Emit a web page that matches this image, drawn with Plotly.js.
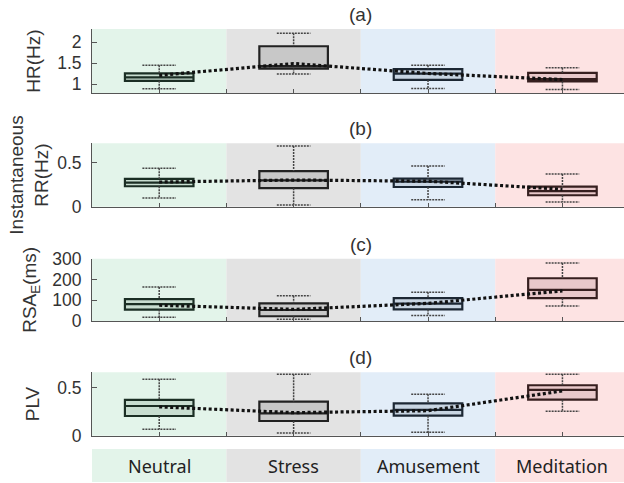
<!DOCTYPE html>
<html>
<head>
<meta charset="utf-8">
<script src="https://cdn.plot.ly/plotly-3.0.1.min.js"></script>
<style>html,body{margin:0;padding:0;background:#fff;}#chart{width:624px;height:483px;}</style>
</head>
<body>
<div id="chart"></div>
<script>
// ---- data ----
const categories = ['Neutral', 'Stress', 'Amusement', 'Meditation'];
const panelTitles = ['(a)', '(b)', '(c)', '(d)'];

const hrLower = [0.89, 1.24, 0.90, 0.875];
const hrQ1    = [1.08, 1.37, 1.10, 1.065];
const hrMed   = [1.16, 1.43, 1.25, 1.12];
const hrQ3    = [1.255, 1.90, 1.355, 1.27];
const hrUpper = [1.45, 2.21, 1.45, 1.39];
const hrMean  = [1.21, 1.49, 1.255, 1.11];

const rrLower = [0.10, 0.02, 0.08, 0.053];
const rrQ1    = [0.232, 0.21, 0.224, 0.13];
const rrMed   = [0.273, 0.30, 0.284, 0.178];
const rrQ3    = [0.315, 0.405, 0.318, 0.227];
const rrUpper = [0.436, 0.69, 0.462, 0.372];
const rrMean  = [0.28, 0.303, 0.29, 0.198];

const rsaLower = [18, 8, 27, 72];
const rsaQ1    = [55, 23, 56, 110];
const rsaMed   = [81, 53, 84, 150];
const rsaQ3    = [105, 85, 110, 206];
const rsaUpper = [164, 122, 139, 279];
const rsaMean  = [76, 56, 85, 145];

const plvLower = [0.067, 0.028, 0.035, 0.254];
const plvQ1    = [0.205, 0.153, 0.208, 0.375];
const plvMed   = [0.309, 0.233, 0.268, 0.476];
const plvQ3    = [0.372, 0.354, 0.337, 0.525];
const plvUpper = [0.587, 0.64, 0.431, 0.64];
const plvMean  = [0.30, 0.24, 0.26, 0.466];

const yTitles = ['HR(Hz)', 'Instantaneous<br>RR(Hz)', 'RSA<sub>E</sub>(ms)', 'PLV'];
const yRanges = [[0.79, 2.31], [0, 0.72], [0, 300], [0, 0.66]];
const yTicks  = [[1, 1.5, 2], [0, 0.5], [0, 100, 200, 300], [0, 0.5]];
const yTickText = [['1', '1.5', '2'], ['0', '0.5'], ['0', '100', '200', '300'], ['0', '0.5']];

// ---- styles ----
const bgColors   = ['#e3f4ea', '#e3e3e3', '#e2edf8', '#fde3e3'];
const boxFill    = ['#c8ddd0', '#c8c8c8', '#c8d5e2', '#e8c8ca'];
const boxEdge    = ['#1b2e24', '#222222', '#1c2733', '#361f1f'];
const domains = [[0.8587, 1.0], [0.6077, 0.7477], [0.3554, 0.4929], [0.1022, 0.2422]];
const stripDomain = [0, 0.0728];
const standoffs = [11, 3, 10, 12];
const xRange = [0.5, 4.458];

const panels = [
  {lo: hrLower, q1: hrQ1, med: hrMed, q3: hrQ3, hi: hrUpper, mean: hrMean},
  {lo: rrLower, q1: rrQ1, med: rrMed, q3: rrQ3, hi: rrUpper, mean: rrMean},
  {lo: rsaLower, q1: rsaQ1, med: rsaMed, q3: rsaQ3, hi: rsaUpper, mean: rsaMean},
  {lo: plvLower, q1: plvQ1, med: plvMed, q3: plvQ3, hi: plvUpper, mean: plvMean}
];

const pos = categories.map((c, i) => i + 1);
const capHalf = 0.125;
const traces = [];
const shapes = [];
const annotations = [];
const layout = {
  width: 624, height: 483,
  margin: {l: 92, r: 0, t: 29, b: 1},
  paper_bgcolor: '#ffffff', plot_bgcolor: 'rgba(0,0,0,0)',
  showlegend: false,
  font: {family: 'Liberation Sans, Arial, sans-serif', size: 17, color: '#333'}
};

panels.forEach((p, k) => {
  const sfx = k === 0 ? '' : String(k + 1);
  const xa = 'x' + sfx, ya = 'y' + sfx;
  // boxes
  categories.forEach((c, i) => {
    traces.push({
      type: 'box', x: [pos[i]], q1: [p.q1[i]], median: [p.med[i]], q3: [p.q3[i]],
      lowerfence: [p.q1[i]], upperfence: [p.q3[i]],
      width: 0.51, whiskerwidth: 0, boxpoints: false,
      fillcolor: boxFill[i], line: {color: boxEdge[i], width: 2.2},
      xaxis: xa, yaxis: ya, hoverinfo: 'skip'
    });
  });
  // whiskers (dotted)
  const wx = [], wy = [];
  categories.forEach((c, i) => {
    wx.push(pos[i], pos[i], null, pos[i], pos[i], null);
    wy.push(p.hi[i], p.q3[i], null, p.q1[i], p.lo[i], null);
    wx.push(pos[i] - capHalf, pos[i] + capHalf, null, pos[i] - capHalf, pos[i] + capHalf, null);
    wy.push(p.hi[i], p.hi[i], null, p.lo[i], p.lo[i], null);
  });
  traces.push({
    type: 'scatter', mode: 'lines', x: wx, y: wy, connectgaps: false,
    line: {color: '#444', width: 1.5, dash: '2px,1px'},
    xaxis: xa, yaxis: ya, hoverinfo: 'skip'
  });
  // mean trend line
  traces.push({
    type: 'scatter', mode: 'lines', x: pos, y: p.mean,
    line: {color: '#111', width: 3.2, dash: '3px,2.5px'},
    xaxis: xa, yaxis: ya, hoverinfo: 'skip'
  });
  // background bands
  categories.forEach((c, i) => {
    shapes.push({type: 'rect', xref: xa, yref: ya + ' domain', x0: pos[i] - 0.5, x1: pos[i] + 0.5,
      y0: 0, y1: 1, fillcolor: bgColors[i], line: {width: 0}, layer: 'below'});
  });
  layout['xaxis' + sfx] = {
    domain: [0, 1], anchor: ya, range: xRange, showticklabels: false,
    ticks: 'inside', tickmode: 'linear', tick0: 0.5, dtick: 0.5, ticklen: 4,
    tickcolor: '#555', showline: true, linecolor: '#555', linewidth: 1,
    showgrid: false, zeroline: false, fixedrange: true
  };
  layout['yaxis' + sfx] = {
    domain: domains[k], anchor: xa, range: yRanges[k],
    tickvals: yTicks[k], ticktext: yTickText[k], ticks: 'inside', ticklen: 5,
    tickcolor: '#555', showline: true, linecolor: '#555', linewidth: 1,
    showgrid: false, zeroline: false, ticklabelstandoff: 6,
    tickfont: {size: 17.5, color: '#333'},
    title: {text: yTitles[k], font: {size: 19, color: '#333'}, standoff: standoffs[k]},
    fixedrange: true
  };
  annotations.push({
    text: panelTitles[k], xref: xa, yref: ya + ' domain', x: 2.5, y: 1,
    xanchor: 'center', yanchor: 'bottom', yshift: 2, showarrow: false,
    font: {size: 19, color: '#333'}
  });
});

// bottom label strip
layout.xaxis5 = {domain: [0, 1], anchor: 'y5', range: xRange, visible: false, fixedrange: true};
layout.yaxis5 = {domain: stripDomain, anchor: 'x5', range: [0, 1], visible: false, fixedrange: true};
traces.push({type: 'scatter', mode: 'none', x: [], y: [], xaxis: 'x5', yaxis: 'y5', hoverinfo: 'skip'});
categories.forEach((c, i) => {
  shapes.push({type: 'rect', xref: 'x5', yref: 'y5 domain', x0: pos[i] - 0.5, x1: pos[i] + 0.5,
    y0: 0, y1: 1, fillcolor: bgColors[i], line: {width: 0}, layer: 'below'});
  annotations.push({
    text: c, xref: 'x5', yref: 'y5 domain', x: pos[i], y: 0.5, xanchor: 'center', yanchor: 'middle',
    showarrow: false, font: {family: 'Noto Sans, Open Sans, sans-serif', size: 18, color: '#222'}
  });
});

layout.shapes = shapes;
layout.annotations = annotations;

Plotly.newPlot('chart', traces, layout, {displayModeBar: false, staticPlot: true});
</script>
</body>
</html>
